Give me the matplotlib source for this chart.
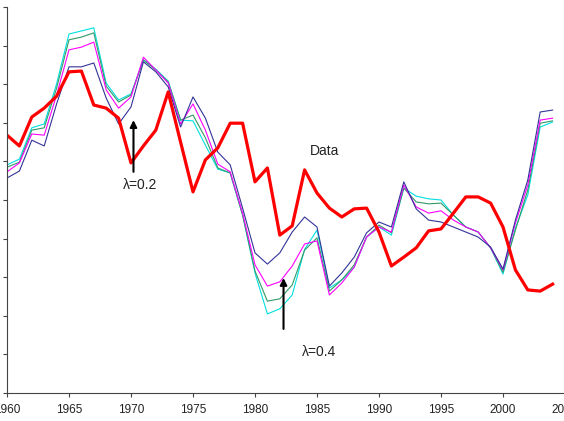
import numpy as np
import matplotlib
matplotlib.use("Agg")
import matplotlib.pyplot as plt

plt.rcParams["font.family"] = ["Liberation Sans", "DejaVu Sans"]

years = np.arange(1960, 2005)

# observed series (thick red)
data = [6.68, 6.40, 7.15, 7.38, 7.69, 8.32, 8.34, 7.46, 7.38, 7.12,
        5.96, 6.40, 6.81, 7.80, 6.50, 5.21, 6.04, 6.35, 6.99, 6.99,
        5.47, 5.83, 4.09, 4.33, 5.78, 5.18, 4.79, 4.56, 4.77, 4.79,
        4.17, 3.29, 3.52, 3.76, 4.20, 4.25, 4.66, 5.08, 5.08, 4.92,
        4.30, 3.19, 2.67, 2.64, 2.82]

# model paths for different lambda
navy = [5.57, 5.75, 6.55, 6.40, 7.49, 8.45, 8.45, 8.55, 7.64, 6.97,
        7.41, 8.58, 8.32, 7.93, 6.89, 7.67, 7.12, 6.24, 5.91, 4.79,
        3.63, 3.34, 3.63, 4.17, 4.56, 4.30, 2.77, 3.11, 3.52, 4.15,
        4.43, 4.30, 5.47, 4.77, 4.48, 4.43, 4.30, 4.17, 4.04, 3.78,
        3.21, 4.48, 5.52, 7.28, 7.33]
magenta = [5.73, 5.96, 6.71, 6.68, 7.72, 8.89, 8.96, 9.09, 7.85, 7.38,
           7.67, 8.70, 8.37, 8.03, 6.97, 7.49, 6.81, 5.93, 5.73, 4.66,
           3.32, 2.77, 2.88, 3.29, 3.86, 3.94, 2.54, 2.85, 3.26, 4.04,
           4.30, 4.17, 5.39, 4.82, 4.66, 4.72, 4.48, 4.30, 4.17, 3.76,
           3.19, 4.40, 5.39, 7.07, 7.12]
green = [5.85, 5.98, 6.81, 6.87, 7.90, 9.15, 9.22, 9.33, 7.95, 7.54,
         7.72, 8.63, 8.37, 8.06, 7.07, 7.20, 6.61, 5.83, 5.70, 4.61,
         3.16, 2.38, 2.44, 2.80, 3.70, 4.02, 2.64, 2.93, 3.32, 4.04,
         4.35, 4.15, 5.31, 4.95, 4.90, 4.92, 4.61, 4.30, 4.17, 3.76,
         3.13, 4.22, 5.26, 6.99, 7.05]
cyan = [5.91, 6.06, 6.87, 6.97, 8.01, 9.30, 9.38, 9.46, 8.03, 7.59,
        7.75, 8.63, 8.39, 8.08, 7.07, 7.05, 6.42, 5.80, 5.70, 4.61,
        3.11, 2.05, 2.18, 2.54, 3.72, 4.22, 2.72, 2.93, 3.26, 4.04,
        4.30, 4.09, 5.31, 5.10, 5.03, 5.00, 4.61, 4.30, 4.17, 3.76,
        3.08, 4.27, 5.13, 6.89, 7.02]

xticks = [1960, 1965, 1970, 1975, 1980, 1985, 1990, 1995, 2000, 2005]

fig = plt.figure(figsize=(5.64, 4.21), dpi=100)
ax = fig.add_axes([7 / 564, 28 / 421, 558 / 564, 386 / 421])

ax.plot(years, cyan, color="#00E0E0", lw=0.8)
ax.plot(years, green, color="#339966", lw=0.8)
ax.plot(years, magenta, color="#FF00FF", lw=0.8)
ax.plot(years, navy, color="#333399", lw=0.8)
ax.plot(years, data, color="#FF0000", lw=2.3)

ax.set_xlim(1960, 2005)
ax.set_ylim(0, 10)
ax.set_xticks(xticks)
ax.set_xticklabels([str(x) for x in xticks])
ax.set_yticks(np.arange(0, 11, 1))
ax.set_yticklabels([])
ax.tick_params(axis="both", direction="out", length=3, width=0.8,
               color="#444444", labelsize=8.5, labelcolor="#222222")
ax.tick_params(axis="x", pad=5)
for s in ["top", "right"]:
    ax.spines[s].set_visible(False)
for s in ["left", "bottom"]:
    ax.spines[s].set_color("#444444")
    ax.spines[s].set_linewidth(0.8)

# annotations
ax.annotate("", xy=(1970.2, 7.07), xytext=(1970.2, 5.73),
            arrowprops=dict(arrowstyle="-|>", color="black", lw=1.5,
                            mutation_scale=10, shrinkA=0, shrinkB=0))
ax.text(1970.7, 5.39, "λ=0.2", fontsize=10, ha="center", va="center", color="#222222")
ax.annotate("", xy=(1982.3, 2.98), xytext=(1982.3, 1.66),
            arrowprops=dict(arrowstyle="-|>", color="black", lw=1.5,
                            mutation_scale=10, shrinkA=0, shrinkB=0))
ax.text(1985.2, 1.05, "λ=0.4", fontsize=10, ha="center", va="center", color="#222222")
ax.text(1985.6, 6.27, "Data", fontsize=10, ha="center", va="center", color="#222222")

fig.savefig("out.png", dpi=100)
